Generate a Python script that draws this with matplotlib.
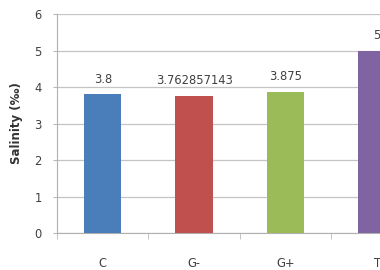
import matplotlib
matplotlib.use("Agg")
import matplotlib.pyplot as plt
import numpy as np

# data
categories = ["C", "G-", "G+", "T"]
salinity = [3.8, 3.762857143, 3.875, 5]
value_labels = ["3.8", "3.762857143", "3.875", "5"]
bar_colors = ["#4a7ebb", "#c0504d", "#9bbb59", "#8064a2"]
y_ticks = [0, 1, 2, 3, 4, 5, 6]

fig = plt.figure(figsize=(3.8, 2.7), dpi=100)
# the original is a crop: the plot area runs past the right edge
ax = fig.add_axes([0.150, 0.137, 1.113 - 0.150, 0.811])

x = np.arange(len(categories))
bars = ax.bar(x, salinity, width=0.41, color=bar_colors, zorder=3)

for xi, val, lab in zip(x, salinity, value_labels):
    ax.annotate(lab, (xi, val), xytext=(0, 6), textcoords="offset points",
                ha="center", va="bottom", fontsize=8.3, color="#404040")

ax.set_xlim(-0.5, len(categories) - 0.5)
ax.set_ylim(0, 6)
ax.set_yticks(y_ticks)
ax.yaxis.grid(True, color="#c4c4c4", linewidth=0.9, zorder=0)
ax.set_axisbelow(True)

ax.set_xticks(x)
ax.set_xticklabels(categories)
ax.set_xticks(np.arange(len(categories) + 1) - 0.5, minor=True)
ax.tick_params(axis="x", which="major", length=0, pad=17, labelsize=8.3,
               labelcolor="#404040")
ax.tick_params(axis="x", which="minor", length=4, color="#b8b8b8", direction="out")
ax.tick_params(axis="y", length=3, color="#b8b8b8", pad=8, labelsize=8.3,
               labelcolor="#404040")

for side in ["top", "right"]:
    ax.spines[side].set_visible(False)
ax.spines["left"].set_color("#b0b0b0")
ax.spines["bottom"].set_color("#b0b0b0")

ax.set_ylabel("Salinity (‰)", fontsize=8.5, fontweight="bold", color="#333333",
              labelpad=8)

fig.savefig("out.png", dpi=100)
